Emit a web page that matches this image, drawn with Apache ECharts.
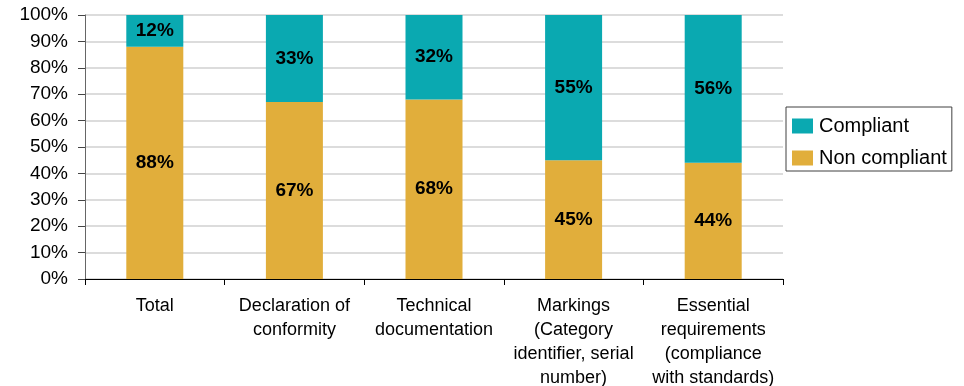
<!DOCTYPE html>
<html>
<head>
<meta charset="utf-8">
<script src="https://cdn.jsdelivr.net/npm/echarts@6/dist/echarts.min.js"></script>
<style>
  html, body { margin: 0; padding: 0; background: #fff; }
  #chart { width: 964px; height: 386px; }
</style>
</head>
<body>
<div id="chart"></div>
<script>
// Categories along the x axis
const categories = [
  'Total',
  'Declaration of\nconformity',
  'Technical\ndocumentation',
  'Markings\n(Category\nidentifier, serial\nnumber)',
  'Essential\nrequirements\n(compliance\nwith standards)'
];
// Share of items per category, in percent
const nonCompliant = [88, 67, 68, 45, 44];
const compliant = [12, 33, 32, 55, 56];
// Y axis tick settings
const yMin = 0;
const yMax = 100;
const yStep = 10;

const font = 'Liberation Sans, Arial, sans-serif';
const chart = echarts.init(document.getElementById('chart'));

const labelStyle = {
  show: true,
  position: 'inside',
  formatter: p => p.value + '%',
  color: '#000',
  fontFamily: font,
  fontWeight: 'bold',
  fontSize: 19
};

chart.setOption({
  animation: false,
  backgroundColor: '#fff',
  grid: {
    left: 85, right: 181, top: 15, bottom: 107,
    containLabel: false,
    outerBoundsMode: 'none'
  },
  legend: {
    data: ['Compliant', 'Non compliant'],
    orient: 'vertical',
    left: 786,
    top: 107,
    padding: [8, 5, 2, 6],
    itemGap: 10,
    itemWidth: 21,
    itemHeight: 15,
    borderColor: '#404040',
    borderWidth: 1,
    icon: 'rect',
    textStyle: { fontFamily: font, fontSize: 20, color: '#000', lineHeight: 22, padding: [0, 0, 0, 1] }
  },
  xAxis: {
    type: 'category',
    data: categories,
    axisLine: { show: true, lineStyle: { color: '#000', width: 1 } },
    axisTick: { show: true, alignWithLabel: false, length: 6, lineStyle: { color: '#000' } },
    axisLabel: {
      interval: 0,
      margin: 15,
      fontFamily: font,
      fontSize: 18,
      lineHeight: 24,
      color: '#000'
    },
    splitLine: { show: false }
  },
  yAxis: {
    type: 'value',
    min: yMin,
    max: yMax,
    interval: yStep,
    axisLine: { show: true, lineStyle: { color: '#666', width: 1 } },
    axisTick: { show: true, length: 7, lineStyle: { color: '#444' } },
    axisLabel: {
      formatter: v => v + '%',
      margin: 17,
      fontFamily: font,
      fontSize: 19,
      color: '#000'
    },
    splitLine: { show: true, lineStyle: { color: '#dcdcdc', width: 2 } }
  },
  series: [
    {
      name: 'Non compliant',
      type: 'bar',
      stack: 'share',
      data: nonCompliant,
      barWidth: 57,
      itemStyle: { color: '#E1AE3B' },
      label: labelStyle
    },
    {
      name: 'Compliant',
      type: 'bar',
      stack: 'share',
      data: compliant,
      barWidth: 57,
      itemStyle: { color: '#0AA9B1' },
      label: labelStyle
    }
  ]
});
</script>
</body>
</html>
